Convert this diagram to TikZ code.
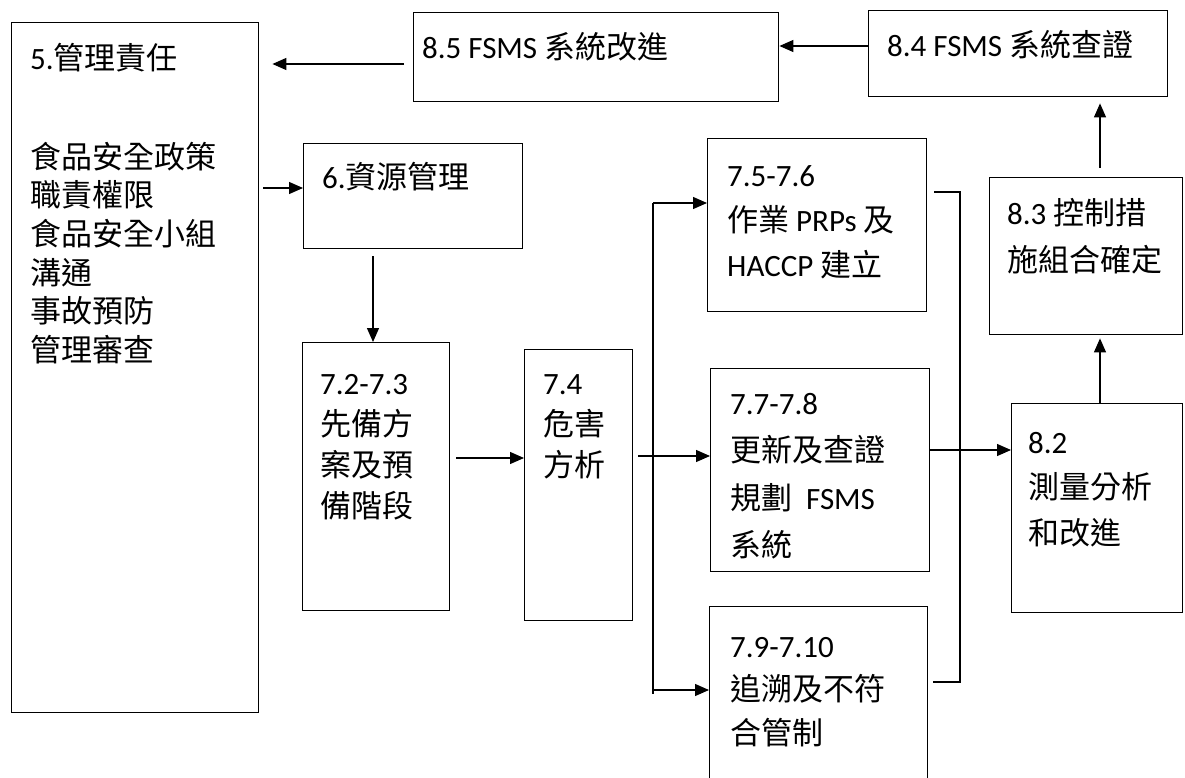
\documentclass[tikz,border=0pt]{standalone}
\usepackage{fontspec}
\setmainfont{Carlito}
\newfontfamily\cjkf{Noto Sans CJK TC}
\newcommand\zh[1]{{\cjkf #1}}
\newcommand\tp{\rule{0pt}{30pt}}
\usetikzlibrary{arrows.meta,calc}
\begin{document}
\begin{tikzpicture}[x=1pt,y=-1pt,
  box/.style={draw, line width=1.4pt, inner sep=0pt, anchor=north west},
  txt/.style={anchor=north west, inner sep=0pt, align=left, font=\fontsize{31}{#1}\selectfont},
  txt/.default=45,
  arr/.style={line width=1.3pt, -{Triangle[length=14pt,width=12pt]}},
  ln/.style={line width=1.3pt}]
\useasboundingbox (0,0) rectangle (1185,778);
\clip (0,0) rectangle (1185,778);
% boxes
\node[box, minimum width=247pt, minimum height=690pt] (b5) at (11,22) {};
\node[box, minimum width=365pt, minimum height=89pt] (b85) at (413,12) {};
\node[box, minimum width=299pt, minimum height=86pt] (b84) at (868,10) {};
\node[box, minimum width=219pt, minimum height=105pt] (b6) at (303,143) {};
\node[box, minimum width=147pt, minimum height=268pt] (b72) at (302,342) {};
\node[box, minimum width=108pt, minimum height=271pt] (b74) at (524,349) {};
\node[box, minimum width=219pt, minimum height=173pt] (b75) at (707,138) {};
\node[box, minimum width=219pt, minimum height=203pt] (b77) at (710,368) {};
\node[box, minimum width=218pt, minimum height=200pt] (b79) at (709,606) {};
\node[box, minimum width=193pt, minimum height=157pt] (b83) at (989,177) {};
\node[box, minimum width=171pt, minimum height=209pt] (b82) at (1011,403) {};
% texts
\node[txt=38.6] (t5) at (30,39) {\tp5.\zh{管理責任}\\[60.4pt]\zh{食品安全政策}\\\zh{職責權限}\\\zh{食品安全小組}\\\zh{溝通}\\\zh{事故預防}\\\zh{管理審查}};
\node[txt] (t85) at (422,28) {\tp8.5 FSMS \zh{系統改進}};
\node[txt] (t84) at (887,26) {\tp8.4 FSMS \zh{系統查證}};
\node[txt] (t6) at (322,158) {\tp6.\zh{資源管理}};
\node[txt=41] (t72) at (320,364) {\tp7.2-7.3\\\zh{先備方}\\\zh{案及預}\\\zh{備階段}};
\node[txt=41] (t74) at (543,364) {\tp7.4\\\zh{危害}\\\zh{方析}};
\node[txt=45] (t75) at (727,156) {\tp7.5-7.6\\\zh{作業} PRPs \zh{及}\\HACCP \zh{建立}};
\node[txt=47.5] (t77) at (730,384) {\tp7.7-7.8\\\zh{更新及查證}\\\zh{規劃}\hspace{14pt}FSMS\\\zh{系統}};
\node[txt=43.5] (t79) at (730,627) {\tp7.9-7.10\\\zh{追溯及不符}\\\zh{合管制}};
\node[txt=47] (t83) at (1007,194) {\tp8.3 \zh{控制措}\\\zh{施組合確定}};
\node[txt=45.5] (t82) at (1028,423) {\tp8.2\\\zh{測量分析}\\\zh{和改進}};
% connectors
\draw[arr] (b84.west |- 0,46) -- (b85.east |- 0,46);
\draw[arr, shorten <=9pt, shorten >=13pt] (b85.west |- 0,64) -- (b5.east |- 0,64);
\draw[arr, shorten <=4pt] (b5.east |- 0,188) -- (b6.west |- 0,188);
\draw[arr, shorten <=7pt] (b6.south -| 373,0) -- (b72.north -| 373,0);
\draw[arr, shorten <=6pt] (b72.east |- 0,458) -- (b74.west |- 0,458);
\draw[arr, shorten <=5pt] (b74.east |- 0,456) -- (b77.west |- 0,456);
\coordinate (L1) at (653,203);
\coordinate (L2) at (653,690);
\draw[arr] (L1) -- (b75.west |- L1);
\draw[ln] (L1) -- ($(L2)+(0,4)$);
\draw[arr] (L2) -- (b79.west |- L2);
\coordinate (R1) at (960,192);
\coordinate (R2) at (960,682);
\draw[ln] ($(b75.east |- R1)+(7,0)$) -- (R1) -- (R2) -- ($(b79.east |- R2)+(5,0)$);
\draw[arr] (b77.east |- 0,450) -- (b82.west |- 0,450);
\draw[arr, shorten >=3pt] (b82.north -| 1100,0) -- (b83.south -| 1100,0);
\draw[arr, shorten <=9pt, shorten >=6pt] (b83.north -| 1100,0) -- (b84.south -| 1100,0);
\end{tikzpicture}
\end{document}
